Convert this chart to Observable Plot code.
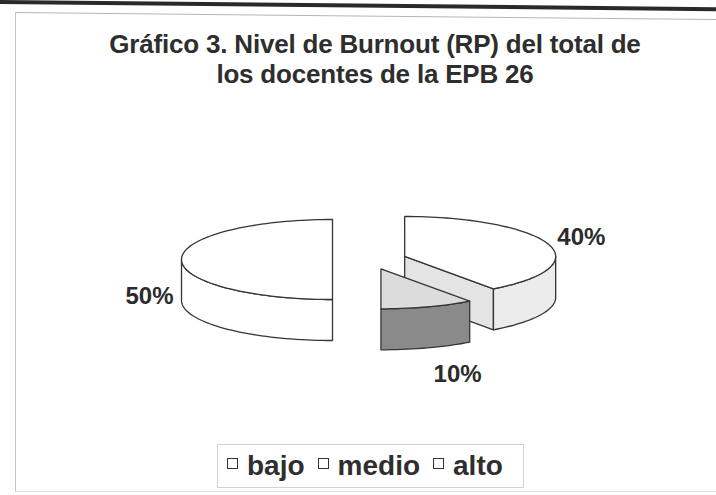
<!DOCTYPE html>
<html>
<head>
<meta charset="utf-8">
<script src="https://cdn.jsdelivr.net/npm/d3@7"></script>
<script src="https://cdn.jsdelivr.net/npm/@observablehq/plot@0.6"></script>
<style>
  html, body { margin: 0; padding: 0; background: #ffffff; }
  #wrap { position: relative; width: 716px; height: 495px; overflow: hidden; background: #ffffff;
          font-family: "Liberation Sans", Arial, sans-serif; color: #2b2b2b; }
  #wrap > * { position: absolute; }
  .scanline { left: -4px; top: 0px; width: 730px; height: 4px; background: #2a2a2a;
              transform-origin: 0 0; transform: rotate(0.57deg); }
  .frametop { left: 15px; top: 12px; width: 710px; height: 0; border-top: 1.5px solid #b5b5b5;
              transform-origin: 0 0; transform: rotate(0.57deg); }
  .frameleft { left: 15px; top: 12px; width: 0; height: 480px; border-left: 1.5px solid #c4c4c4; }
  .framebottom { left: 15px; top: 491px; width: 710px; height: 0; border-top: 1.5px solid #dedede; }
  #chart { left: 0; top: 0; }
  #title { left: 0; top: 29px; width: 750px; text-align: center; font-size: 26px; font-weight: bold;
           line-height: 30px; letter-spacing: -0.2px; color: #2e2e2e; }
  #legend { left: 217px; top: 444px; width: 296px; height: 42px; border: 1px solid #d2d2d2;
            font-size: 28px; font-weight: bold; line-height: 42px; white-space: nowrap;
            padding-left: 9px; box-sizing: content-box; color: #2e2e2e; }
  #legend .item { display: inline-block; margin-right: 13px; }
  #legend .sw { display: inline-block; width: 9px; height: 9px; border: 1.5px solid #333; background: #fff;
                margin-right: 9px; vertical-align: 0.2em; }
</style>
</head>
<body>
<div id="wrap">
  <div class="scanline"></div>
  <div class="frametop"></div>
  <div class="frameleft"></div>
  <div class="framebottom"></div>
  <div id="chart"></div>
  <div id="title"></div>
  <div id="legend"></div>
</div>
<script>
// ---- data ----
const categories = ["bajo", "medio", "alto"];
const values = [50, 40, 10];
const percentLabels = ["50%", "40%", "10%"];
const titleLines = ["Gráfico 3. Nivel de Burnout (RP) del total de", "los docentes de la EPB 26"];

// ---- layout / style (not data) ----
const W = 716, H = 495;
const PX = 151;             // pixels per pie radius
const CX = 369, CY = 259;   // pie centre in pixels
const TILT = 40 / 151;      // vertical squash of the top ellipse
const DEPTH = 41 / 151;     // thickness of the pie
const EXPLODE = 0.245;      // explosion distance (radius units)
const topFill = {bajo: "#ffffff", medio: "#ffffff", alto: "#dcdcdc"};
const sideFill = {bajo: "#ffffff", medio: "#ececec", alto: "#8a8a8a"};
const radialFill = {bajo: "#ffffff", medio: "#e4e4e4", alto: "#bdbdbd"};
const labelLayout = {
  bajo: {textAnchor: "end", dx: -8, dy: 37},
  medio: {textAnchor: "start", dx: 9, dy: -7},
  alto: {textAnchor: "middle", dx: 30, dy: 67}
};

// ---- geometry from the data ----
const arcs = d3.pie().sort(null).startAngle(Math.PI).endAngle(3 * Math.PI)(values);

function pt(a, r, ex, ey, dz) {
  return {x: ex + r * Math.sin(a), y: ey - r * Math.cos(a) * TILT + dz};
}
function arcPts(a0, a1, ex, ey, dz) {
  const n = Math.max(2, Math.ceil(Math.abs(a1 - a0) / (Math.PI / 90)));
  return d3.range(n + 1).map(i => pt(a0 + (a1 - a0) * i / n, 1, ex, ey, dz));
}

const slices = arcs.map((a, i) => {
  const cat = categories[i];
  const a0 = a.startAngle, a1 = a.endAngle, m = (a0 + a1) / 2;
  const ex = EXPLODE * Math.sin(m), ey = -EXPLODE * Math.cos(m) * TILT;
  const faces = [];
  // radial faces facing the viewer
  [[a1, a1 + Math.PI / 2], [a0, a0 - Math.PI / 2]].forEach(([ang, nrm]) => {
    if (-Math.cos(nrm) > 0.01) {
      const c0 = {x: ex, y: ey}, r0 = pt(ang, 1, ex, ey, 0), r1 = pt(ang, 1, ex, ey, DEPTH), c1 = {x: ex, y: ey + DEPTH};
      faces.push({fill: radialFill[cat], points: [c0, r0, r1, c1, c0]});
    }
  });
  // outer sides on the front half
  for (let k = -1; k <= 2; k++) {
    const lo = Math.max(a0, Math.PI / 2 + 2 * Math.PI * k), hi = Math.min(a1, 3 * Math.PI / 2 + 2 * Math.PI * k);
    if (hi > lo + 1e-6) {
      const topArc = arcPts(lo, hi, ex, ey, 0);
      const botArc = arcPts(hi, lo, ex, ey, DEPTH);
      faces.push({fill: sideFill[cat], points: [...topArc, ...botArc, topArc[0]]});
    }
  }
  // top face
  const c = {x: ex, y: ey};
  faces.push({fill: topFill[cat], points: [c, ...arcPts(a0, a1, ex, ey, 0), c]});
  const rim = pt(m, 1, ex, ey, 0);
  return {cat, label: percentLabels[i], ey, faces, lx: rim.x, ly: rim.y};
});

const drawOrder = slices.slice().sort((p, q) => p.ey - q.ey);
const marks = [];
drawOrder.forEach(s => s.faces.forEach(f => {
  marks.push(Plot.line(f.points, {x: "x", y: "y", fill: f.fill, stroke: "#353535", strokeWidth: 1.3,
    strokeLinejoin: "round", curve: "linear"}));
}));
slices.forEach(s => {
  const L = labelLayout[s.cat];
  marks.push(Plot.text([s], {x: "lx", y: "ly", text: "label", textAnchor: L.textAnchor, dx: L.dx, dy: L.dy,
    fontSize: 24, fontWeight: "bold", fontFamily: "Liberation Sans, Arial, sans-serif", fill: "#2b2b2b"}));
});

const chart = Plot.plot({
  width: W, height: H, margin: 0,
  x: {domain: [-CX / PX, (W - CX) / PX], range: [0, W], axis: null},
  y: {domain: [-CY / PX, (H - CY) / PX], range: [0, H], axis: null},
  style: {background: "transparent", overflow: "visible"},
  marks
});
document.getElementById("chart").appendChild(chart);

// title
const t = document.getElementById("title");
titleLines.forEach(l => { const d = document.createElement("div"); d.textContent = l; t.appendChild(d); });

// legend
const lg = document.getElementById("legend");
categories.forEach(c => {
  const it = document.createElement("span"); it.className = "item";
  const sw = document.createElement("span"); sw.className = "sw";
  it.appendChild(sw); it.appendChild(document.createTextNode(c));
  lg.appendChild(it);
});
</script>
</body>
</html>
